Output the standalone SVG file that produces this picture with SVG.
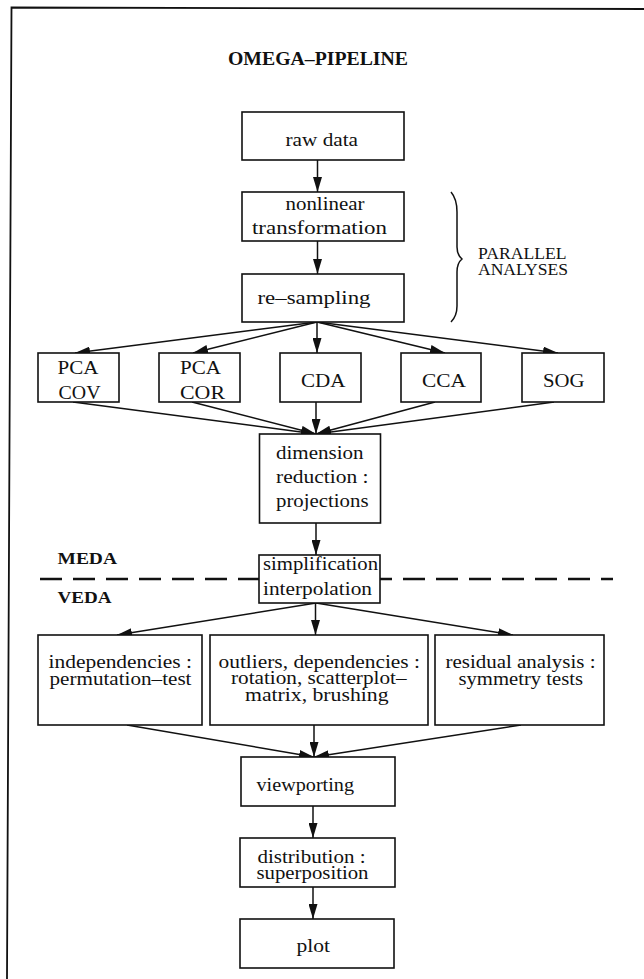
<svg xmlns="http://www.w3.org/2000/svg" width="644" height="979" viewBox="0 0 644 979">
<style>
.box{fill:#fff;stroke:#111;stroke-width:1.6}
.t{font-family:"Liberation Serif","Times New Roman",serif;font-size:18.5px;fill:#111}
.b{font-weight:bold}
.ln{stroke:#111;stroke-width:1.5;fill:none}
</style>
<defs>
<marker id="ah" markerUnits="userSpaceOnUse" markerWidth="15" markerHeight="9" refX="15" refY="4.5" orient="auto">
<path d="M0,0 L15,4.5 L0,9 z" fill="#111"/>
</marker>
</defs>
<rect width="644" height="979" fill="#fff"/>
<path d="M7,979 L11.5,7.5 L644,9" stroke="#111" stroke-width="1.8" fill="none"/>
<text x="228" y="65" class="t b" style="font-size:18px" textLength="180" lengthAdjust="spacingAndGlyphs">OMEGA–PIPELINE</text>
<g id="brace"><path class="ln" d="M451,192 Q457,199 457,212 L457,247 Q457,255 462,259 Q457,263 457,272 L457,306 Q457,316 451,322"/></g>
<text x="478" y="259" class="t" style="font-size:17.5px" textLength="88.5" lengthAdjust="spacingAndGlyphs">PARALLEL</text>
<text x="478" y="274.5" class="t" style="font-size:17.5px" textLength="90" lengthAdjust="spacingAndGlyphs">ANALYSES</text>
<text x="57.5" y="563.5" class="t b" style="font-size:16px" textLength="59.5" lengthAdjust="spacingAndGlyphs">MEDA</text>
<text x="57.5" y="603" class="t b" style="font-size:16px" textLength="54" lengthAdjust="spacingAndGlyphs">VEDA</text>
<line x1="40" y1="579" x2="613" y2="579" stroke="#111" stroke-width="2.5" stroke-dasharray="22 11"/>
<g id="connectors" class="ln" marker-end="url(#ah)">
<line x1="317.5" y1="160" x2="317.5" y2="192"/>
<line x1="317.5" y1="241" x2="317.5" y2="274"/>
<line x1="317" y1="322" x2="75" y2="353"/>
<line x1="317" y1="322" x2="193" y2="353"/>
<line x1="317" y1="322" x2="317" y2="353"/>
<line x1="317" y1="322" x2="445" y2="353"/>
<line x1="317" y1="322" x2="558" y2="353"/>
<line x1="73" y1="402" x2="316" y2="434"/>
<line x1="192" y1="402" x2="316" y2="434"/>
<line x1="316" y1="402" x2="316" y2="434"/>
<line x1="435" y1="402" x2="316" y2="434"/>
<line x1="554" y1="402" x2="316" y2="434"/>
<line x1="316" y1="523" x2="316" y2="555"/>
<line x1="316" y1="603" x2="117" y2="635"/>
<line x1="315.5" y1="603" x2="315.5" y2="635"/>
<line x1="316" y1="603" x2="513" y2="635"/>
<line x1="127" y1="725" x2="314" y2="757"/>
<line x1="314" y1="725" x2="314" y2="757"/>
<line x1="521" y1="725" x2="314" y2="757"/>
<line x1="313" y1="806" x2="313" y2="838"/>
<line x1="313" y1="887" x2="313" y2="919"/>
</g>
<g id="raw"><rect class="box" x="242" y="112" width="162" height="48"/><text x="285.5" y="146" class="t" textLength="72.5" lengthAdjust="spacingAndGlyphs">raw data</text></g>
<g id="nonlinear"><rect class="box" x="242" y="192" width="162" height="49"/><text x="285.5" y="209.5" class="t" textLength="79" lengthAdjust="spacingAndGlyphs">nonlinear</text><text x="252" y="233.5" class="t" textLength="135" lengthAdjust="spacingAndGlyphs">transformation</text></g>
<g id="resampling"><rect class="box" x="242" y="274" width="162" height="48"/><text x="257.5" y="303.5" class="t" textLength="113" lengthAdjust="spacingAndGlyphs">re–sampling</text></g>
<g id="pcacov"><rect class="box" x="38" y="353" width="81" height="49"/><text x="57.5" y="374" class="t" textLength="41" lengthAdjust="spacingAndGlyphs">PCA</text><text x="58.5" y="398.5" class="t" textLength="42" lengthAdjust="spacingAndGlyphs">COV</text></g>
<g id="pcacor"><rect class="box" x="159" y="353" width="81" height="49"/><text x="180" y="374" class="t" textLength="41" lengthAdjust="spacingAndGlyphs">PCA</text><text x="180" y="398.5" class="t" textLength="45" lengthAdjust="spacingAndGlyphs">COR</text></g>
<g id="cda"><rect class="box" x="280" y="353" width="81" height="49"/><text x="301" y="387" class="t" textLength="44.5" lengthAdjust="spacingAndGlyphs">CDA</text></g>
<g id="cca"><rect class="box" x="401" y="353" width="80" height="49"/><text x="422" y="387" class="t" textLength="44" lengthAdjust="spacingAndGlyphs">CCA</text></g>
<g id="sog"><rect class="box" x="522" y="353" width="82" height="49"/><text x="543" y="387" class="t" textLength="41.5" lengthAdjust="spacingAndGlyphs">SOG</text></g>
<g id="dimension"><rect class="box" x="259.5" y="434" width="121" height="89"/><text x="276" y="458.5" class="t" textLength="87.5" lengthAdjust="spacingAndGlyphs">dimension</text><text x="276" y="482.5" class="t" textLength="92.5" lengthAdjust="spacingAndGlyphs">reduction :</text><text x="276" y="506.5" class="t" textLength="92.5" lengthAdjust="spacingAndGlyphs">projections</text></g>
<g id="simplification"><rect class="box" x="259" y="555" width="121" height="48"/><text x="263" y="570" class="t" textLength="115" lengthAdjust="spacingAndGlyphs">simplification</text><text x="263" y="595" class="t" textLength="109" lengthAdjust="spacingAndGlyphs">interpolation</text></g>
<g id="independencies"><rect class="box" x="38" y="635" width="164" height="90"/><text x="48.5" y="668" class="t" textLength="143.5" lengthAdjust="spacingAndGlyphs">independencies :</text><text x="49.5" y="684.5" class="t" textLength="142" lengthAdjust="spacingAndGlyphs">permutation–test</text></g>
<g id="outliers"><rect class="box" x="210" y="635" width="218" height="90"/><text x="218.5" y="668" class="t" textLength="201.5" lengthAdjust="spacingAndGlyphs">outliers, dependencies :</text><text x="231" y="684" class="t" textLength="175.5" lengthAdjust="spacingAndGlyphs">rotation, scatterplot–</text><text x="245" y="700.5" class="t" textLength="143.5" lengthAdjust="spacingAndGlyphs">matrix, brushing</text></g>
<g id="residual"><rect class="box" x="435" y="635" width="169" height="90"/><text x="445.5" y="668" class="t" textLength="150" lengthAdjust="spacingAndGlyphs">residual analysis :</text><text x="458.5" y="684.5" class="t" textLength="124.5" lengthAdjust="spacingAndGlyphs">symmetry tests</text></g>
<g id="viewporting"><rect class="box" x="241" y="757" width="154" height="49"/><text x="256.5" y="790.5" class="t" textLength="97.5" lengthAdjust="spacingAndGlyphs">viewporting</text></g>
<g id="distribution"><rect class="box" x="240" y="838" width="155" height="49"/><text x="257.5" y="862.5" class="t" textLength="108" lengthAdjust="spacingAndGlyphs">distribution :</text><text x="256.5" y="878.5" class="t" textLength="112" lengthAdjust="spacingAndGlyphs">superposition</text></g>
<g id="plot"><rect class="box" x="240" y="919" width="154" height="49"/><text x="296.5" y="951.5" class="t" textLength="33.5" lengthAdjust="spacingAndGlyphs">plot</text></g>
</svg>
